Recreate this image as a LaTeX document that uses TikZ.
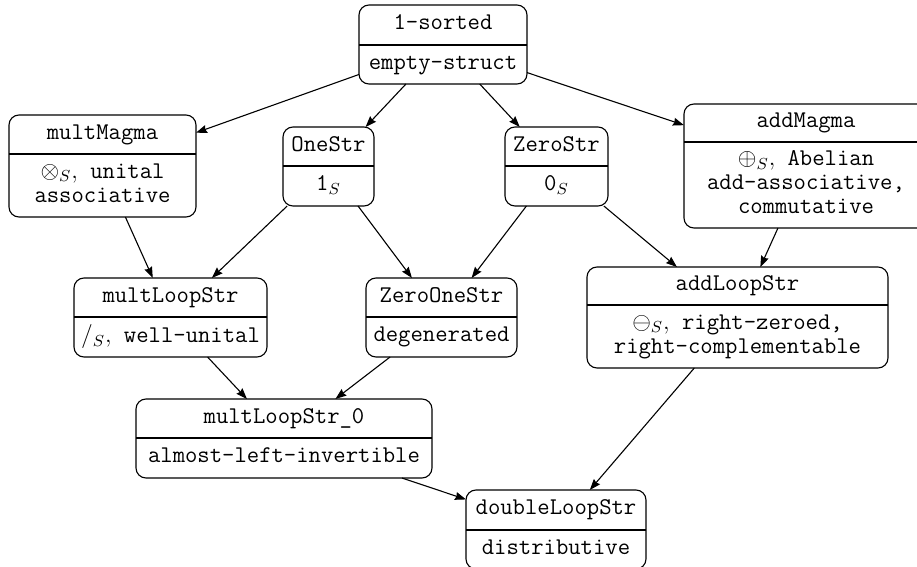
\documentclass[tikz,border=0pt]{standalone}
\usetikzlibrary{arrows.meta}
\tikzset{
  classbox/.style={draw, rounded corners=5pt, line width=0.55pt, inner sep=0pt, outer sep=0pt},
  divline/.style={line width=0.55pt},
  classtext/.style={font=\ttfamily\fontsize{12}{12}\selectfont, align=center, inner sep=0pt},
  conn/.style={line width=0.55pt, -{Stealth[length=5.5pt,width=4pt,inset=0.6pt]}}
}
\newcommand\umlclass[8]{%
  \pgfmathsetmacro\umlbw{(#4-#2)*0.5}%
  \pgfmathsetmacro\umlbh{(#5-#3)*0.5}%
  \node[classbox, minimum width=\umlbw pt, minimum height=\umlbh pt] (#1) at ({(#2+#4)/2},{(#3+#5)/2}) {};
  \draw[divline] ({#2},{#6}) -- ({#4},{#6});
  \node[classtext] (#1-t) at ({(#2+#4)/2},{(#3+#6)/2}) {\strut #7};
  \node[classtext] (#1-b) at ({(#2+#4)/2},{(#6+#5)/2}) {#8};
}
\begin{document}
\begin{tikzpicture}[x=0.5pt, y=-0.5pt]
  \useasboundingbox (0,0) rectangle (917,567);
  \umlclass{sorted}{359}{5}{527}{84}{45}{1-sorted}{\strut empty-struct\strut}
  \umlclass{multMagma}{9}{115}{196}{217}{154}{multMagma}{\strut$\otimes_S,$ unital\\associative\strut}
  \umlclass{OneStr}{283}{127}{374}{206}{166}{OneStr}{\strut 1$_S$\strut}
  \umlclass{ZeroStr}{505}{127}{608}{206}{166}{ZeroStr}{\strut 0$_S$\strut}
  \umlclass{addMagma}{684}{104}{928}{228}{142}{addMagma}{\strut$\oplus_S,$ Abelian\\add-associative,\\commutative\strut}
  \umlclass{multLoopStr}{74}{278}{267}{357}{317}{multLoopStr}{\strut $/_S,$ well-unital\strut}
  \umlclass{ZeroOneStr}{366}{278}{517}{357}{317}{ZeroOneStr}{\strut degenerated\strut}
  \umlclass{addLoopStr}{587}{267}{888}{368}{305}{addLoopStr}{\strut$\ominus_S,$ right-zeroed,\\right-complementable\strut}
  \umlclass{multLoopStrZ}{136}{399}{432}{478}{438}{multLoopStr\_0}{\strut almost-left-invertible\strut}
  \umlclass{doubleLoopStr}{466}{490}{646}{569}{530}{doubleLoopStr}{\strut distributive\strut}

  \draw[conn] (sorted) -- (multMagma);
  \draw[conn] (sorted) -- (OneStr);
  \draw[conn] (sorted) -- (ZeroStr);
  \draw[conn] (sorted) -- (addMagma);
  \draw[conn] (multMagma) -- (multLoopStr);
  \draw[conn] (OneStr) -- (multLoopStr);
  \draw[conn] (OneStr) -- (ZeroOneStr);
  \draw[conn] (ZeroStr) -- (ZeroOneStr);
  \draw[conn] (ZeroStr) -- (addLoopStr);
  \draw[conn] (addMagma) -- (addLoopStr);
  \draw[conn] (multLoopStr) -- (multLoopStrZ);
  \draw[conn] (ZeroOneStr) -- (multLoopStrZ);
  \draw[conn] (addLoopStr) -- (doubleLoopStr);
  \draw[conn] (multLoopStrZ) -- (doubleLoopStr);
\end{tikzpicture}
\end{document}
